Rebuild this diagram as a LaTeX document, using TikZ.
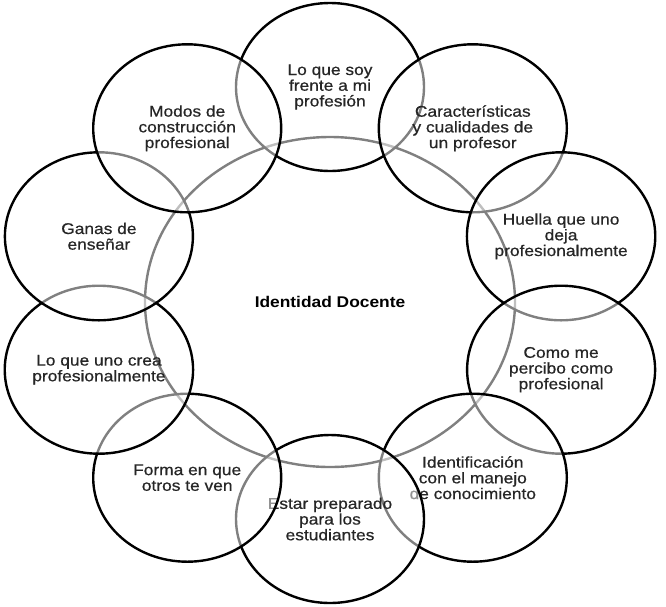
\documentclass[tikz,border=0pt]{standalone}
\usepackage{fontspec}
\setmainfont{Liberation Sans}[FakeStretch=1.12, UprightFeatures={FakeBold=0.6}]
\usetikzlibrary{shapes.geometric}

\begin{document}
\begin{tikzpicture}[
    x=1pt, y=-1pt,
    every node/.style={font=\fontsize{15.5}{15.7}\selectfont, align=center},
    core/.style={ellipse, draw, line width=2.4pt, fill=white,
                minimum width=370pt, minimum height=330pt, inner sep=0pt},
    petal/.style={ellipse, draw, line width=2.4pt, fill=white,
                fill opacity=0.5, text opacity=1, text=black!85,
                minimum width=188pt, minimum height=168pt, inner sep=0pt}
]
\useasboundingbox (0,0) rectangle (666,606);
% Centre
\node[core] (hub) at (330, 302) {\textbf{Identidad Docente}};
% Ring, clockwise from the top
\node[petal] (soy)    at (330.0,  87.0) {Lo que soy\\frente a mi\\profesión};
\node[petal] (rasgos) at (472.8, 128.3) {Características\\y cualidades de\\un profesor};
\node[petal] (huella) at (561.1, 236.3) {Huella que uno\\deja\\profesionalmente};
\node[petal] (percibo) at (561.1, 369.7) {Como me\\percibo como\\profesional};
\node[petal] (saber)  at (472.8, 477.7) {Identificación\\con el manejo\\de conocimiento};
\node[petal] (listo)  at (330.0, 519.0) {Estar preparado\\para los\\estudiantes};
\node[petal] (otros)  at (187.2, 477.7) {Forma en que\\otros te ven};
\node[petal] (crea)   at ( 98.9, 369.7) {Lo que uno crea\\profesionalmente};
\node[petal] (ganas)  at ( 98.9, 236.3) {Ganas de\\enseñar};
\node[petal] (modos)  at (187.2, 128.3) {Modos de\\construcción\\profesional};
\end{tikzpicture}
\end{document}
